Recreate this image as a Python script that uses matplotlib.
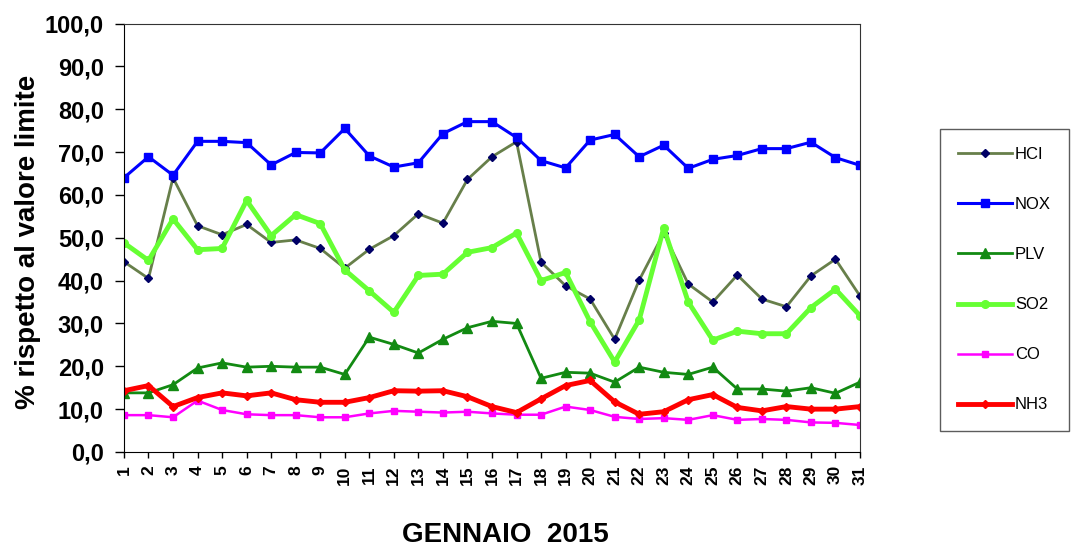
import matplotlib
matplotlib.use("Agg")
import matplotlib.pyplot as plt
from matplotlib.ticker import FuncFormatter

plt.rcParams['font.family'] = ['Liberation Sans', 'DejaVu Sans']

# dati: % rispetto al valore limite, gennaio 2015
giorni = list(range(1, 32))
hcl = [44.4, 40.5, 64.0, 52.8, 50.7, 53.1, 48.9, 49.5, 47.5, 42.9,
       47.3, 50.5, 55.6, 53.4, 63.6, 68.9, 72.4, 44.3, 38.8, 35.7,
       26.3, 40.1, 51.1, 39.2, 35.0, 41.3, 35.7, 33.9, 41.1, 45.0, 36.4]
nox = [64.0, 68.9, 64.6, 72.5, 72.5, 72.2, 67.0, 69.9, 69.8, 75.5,
       69.1, 66.5, 67.5, 74.3, 77.1, 77.1, 73.4, 68.0, 66.3, 72.8,
       74.1, 68.9, 71.6, 66.2, 68.3, 69.2, 70.8, 70.8, 72.3, 68.7, 66.9]
plv = [13.8, 13.8, 15.7, 19.6, 20.8, 19.8, 20.0, 19.8, 19.8, 18.1,
       26.8, 25.1, 23.1, 26.3, 29.0, 30.5, 30.0, 17.2, 18.6, 18.4,
       16.3, 19.8, 18.6, 18.1, 19.8, 14.7, 14.7, 14.2, 15.0, 13.7, 16.3]
so2 = [48.8, 44.7, 54.4, 47.2, 47.5, 58.7, 50.5, 55.4, 53.3, 42.5,
       37.6, 32.6, 41.2, 41.5, 46.6, 47.7, 51.1, 40.0, 41.9, 30.4,
       21.0, 30.8, 52.3, 35.0, 26.1, 28.2, 27.6, 27.6, 33.7, 38.0, 31.8]
co = [8.6, 8.6, 8.1, 12.0, 9.8, 8.8, 8.6, 8.6, 8.1, 8.1,
      9.0, 9.6, 9.4, 9.2, 9.4, 9.0, 8.7, 8.7, 10.6, 9.8,
      8.2, 7.7, 7.9, 7.5, 8.6, 7.5, 7.7, 7.5, 6.9, 6.8, 6.3]
nh3 = [14.3, 15.5, 10.6, 12.7, 13.8, 13.1, 13.8, 12.2, 11.6, 11.6,
       12.7, 14.3, 14.2, 14.3, 12.9, 10.6, 9.2, 12.4, 15.5, 16.7,
       11.7, 8.8, 9.4, 12.2, 13.4, 10.4, 9.6, 10.6, 10.0, 10.0, 10.6]

fig = plt.figure(figsize=(10.75, 5.48), dpi=100)
ax = fig.add_axes([0.1153, 0.1752, 0.6847, 0.7819])

ax.plot(giorni, hcl, color='#677F4A', lw=2, marker='D', ms=4,
        mfc='#000066', mec='#000066', label='HCI')
ax.plot(giorni, nox, color='#0000FF', lw=2.2, marker='s', ms=6, label='NOX')
ax.plot(giorni, plv, color='#128A12', lw=2, marker='^', ms=6.5, label='PLV')
ax.plot(giorni, so2, color='#66FF33', lw=3.5, marker='o', ms=5.5, label='SO2')
ax.plot(giorni, co, color='#FF00FF', lw=1.8, marker='s', ms=5, label='CO')
ax.plot(giorni, nh3, color='#FF0000', lw=3.5, marker='D', ms=4, label='NH3')

ax.set_xlim(1, 31)
ax.set_ylim(0, 100)
ax.set_xticks(giorni)
ax.set_xticklabels([str(g) for g in giorni], rotation=90, fontsize=12.5,
                   fontweight='bold')
ax.set_yticks(range(0, 101, 10))
ax.yaxis.set_major_formatter(FuncFormatter(lambda v, p: f"{v:.1f}".replace('.', ',')))
for t in ax.get_yticklabels():
    t.set_fontsize(17)
    t.set_fontweight('bold')
ax.tick_params(axis='y', direction='out', length=6.5, width=1, pad=8)
ax.tick_params(axis='x', direction='out', length=4.5, width=1, pad=5)

for s in ['left', 'bottom']:
    ax.spines[s].set_color('black')
for s in ['top', 'right']:
    ax.spines[s].set_color('#333333')

ax.set_ylabel('% rispetto al valore limite', fontsize=20, fontweight='bold')
ax.yaxis.set_label_coords(-0.113, 0.49)
fig.text(0.47, 1 - 535 / 548, 'GENNAIO  2015', fontsize=20, fontweight='bold',
         ha='center', va='center')

leg = fig.legend(loc='upper left', bbox_to_anchor=(940 / 1075, 1 - 129 / 548),
                 fontsize=12, frameon=True, fancybox=False, edgecolor='#333333',
                 handlelength=3.2, handletextpad=0.2, labelspacing=2.1,
                 borderpad=1.1, borderaxespad=0)
leg.get_frame().set_linewidth(1)

plt.savefig('out.png', dpi=100)
